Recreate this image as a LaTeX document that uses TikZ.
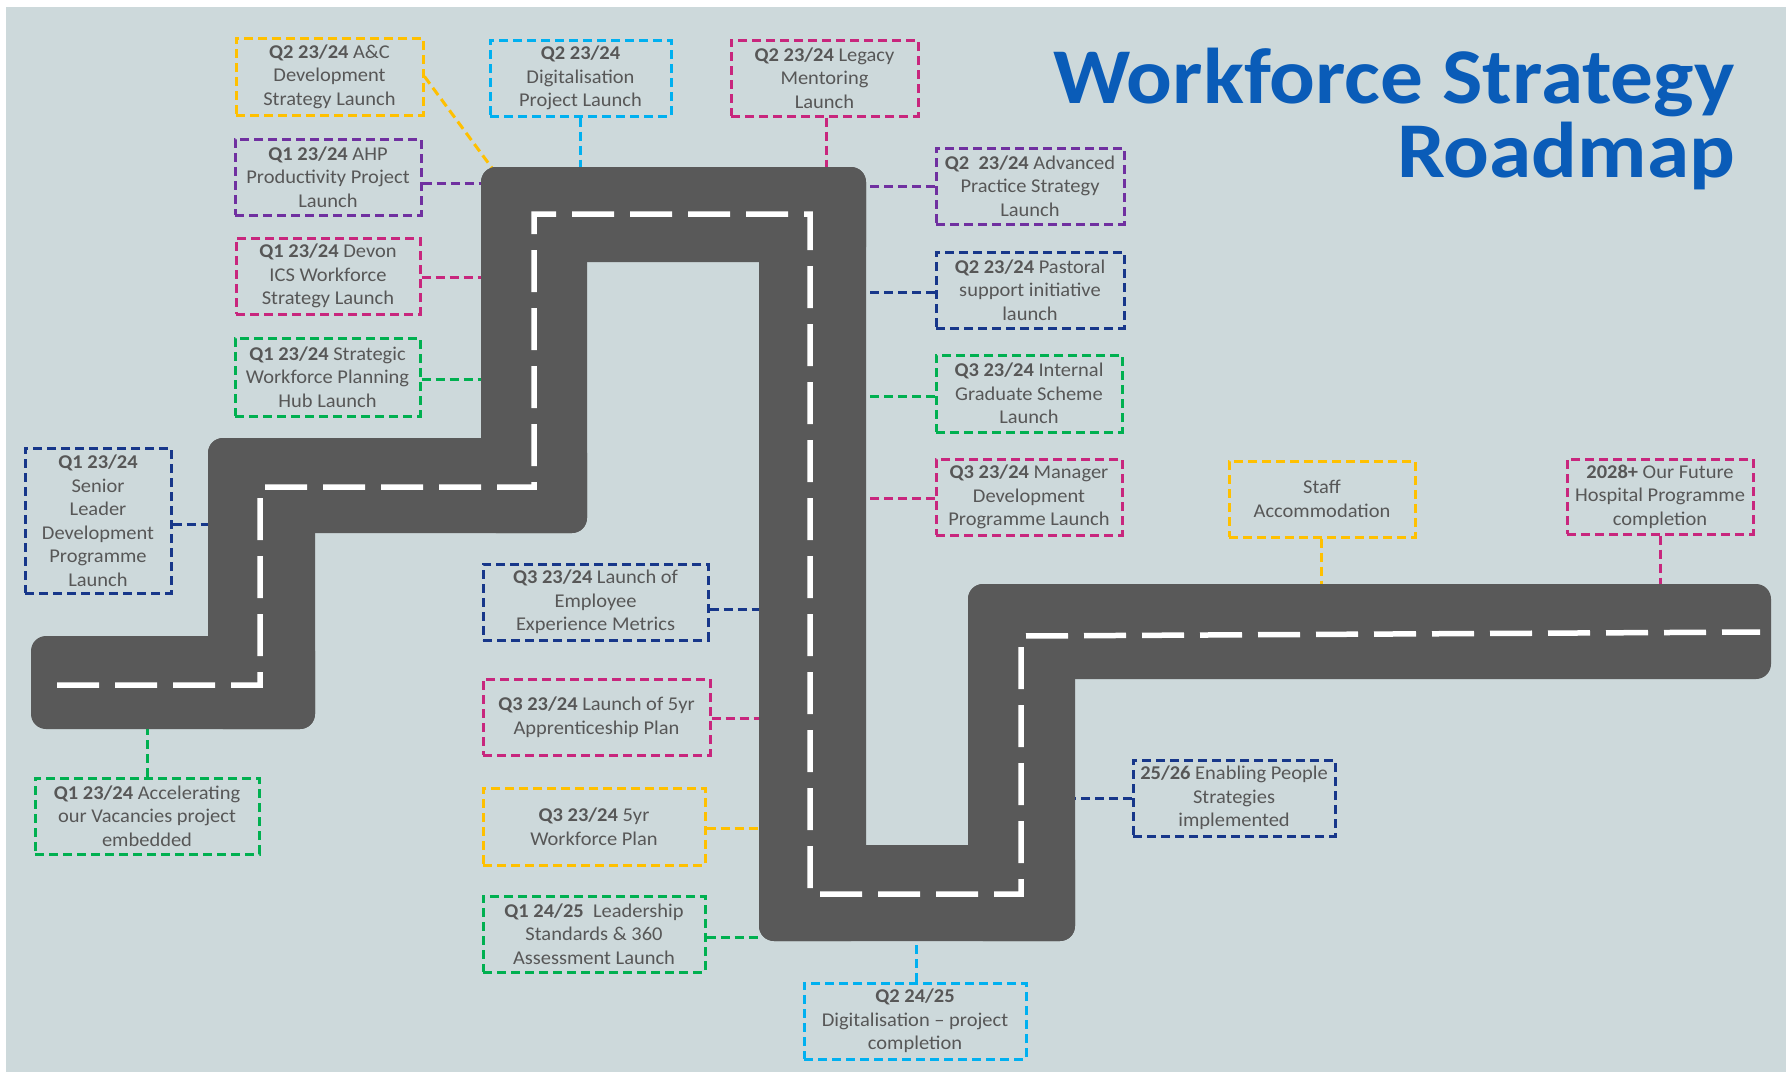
\documentclass[tikz,border=0pt]{standalone}
\usepackage{fontspec}
\setmainfont{Carlito}
\newfontfamily\boxfont{Carlito}[FakeStretch=1.05]
\newfontfamily\headfont{Carlito}[FakeStretch=1.08]

\definecolor{panel}{HTML}{CDD9DB}
\definecolor{roadgrey}{HTML}{595959}
\definecolor{txtgrey}{HTML}{575757}
\definecolor{titleblue}{HTML}{0A5CB8}
\definecolor{cOrange}{HTML}{FFC000}
\definecolor{cCyan}{HTML}{00B0F0}
\definecolor{cMagenta}{HTML}{C8267D}
\definecolor{cPurple}{HTML}{7030A0}
\definecolor{cNavy}{HTML}{17378A}
\definecolor{cGreen}{HTML}{00B050}

\tikzset{
  milestone/.style={draw, line width=3pt, dash pattern=on 9pt off 5pt,
    align=center, text=txtgrey, inner sep=0pt,
    font=\boxfont\fontsize{19.5}{23.5}\selectfont},
  link/.style={line width=3pt, dash pattern=on 9pt off 5pt},
  roadpiece/.style={fill=roadgrey, rounded corners=15pt},
  centreline/.style={draw=white, line width=5.5pt, dash pattern=on 42pt off 16pt},
  heading/.style={anchor=base east, inner sep=0pt, text=titleblue,
    font=\headfont\fontsize{79}{79}\selectfont\bfseries}
}

\begin{document}
\begin{tikzpicture}[x=1pt,y=-1pt]
\useasboundingbox (0,0) rectangle (1786,1072);
\fill[white] (0,0) rectangle (1786,1072);
\fill[panel] (6,7) rectangle (1786,1072);

% title
\node[heading] (title1) at (1735,103) {Workforce Strategy};
\node[heading] (title2) at (1735,177) {Roadmap};

% milestones
\node[milestone, draw=cOrange, minimum width=187pt, minimum height=77pt] (b1) at (329.5,76.5)
  {\textbf{Q2 23/24} A\&C\\Development\\Strategy Launch};
\node[milestone, draw=cCyan, minimum width=181pt, minimum height=76pt] (b2) at (580.5,78)
  {\textbf{Q2 23/24}\\Digitalisation\\Project Launch};
\node[milestone, draw=cMagenta, minimum width=187pt, minimum height=76pt] (b3) at (824.5,78)
  {\textbf{Q2 23/24} Legacy\\Mentoring\\Launch};
\node[milestone, draw=cPurple, minimum width=186pt, minimum height=76pt] (b4) at (328,177)
  {\textbf{Q1 23/24} AHP\\Productivity Project\\Launch};
\node[milestone, draw=cMagenta, minimum width=184pt, minimum height=76pt] (b5) at (328,276)
  {\textbf{Q1 23/24} Devon\\ICS Workforce\\Strategy Launch};
\node[milestone, draw=cGreen, minimum width=185pt, minimum height=78pt] (b6) at (327.5,377)
  {\textbf{Q1 23/24} Strategic\\Workforce Planning\\Hub Launch};
\node[milestone, draw=cNavy, minimum width=146pt, minimum height=145pt] (b7) at (98,520.5)
  {\textbf{Q1 23/24}\\Senior\\Leader\\Development\\Programme\\Launch};
\node[milestone, draw=cGreen, minimum width=224pt, minimum height=76pt] (b8) at (147,816)
  {\textbf{Q1 23/24} Accelerating\\our Vacancies project\\embedded};
\node[milestone, draw=cNavy, minimum width=225pt, minimum height=76pt] (b9) at (595.5,602)
  {\textbf{Q3 23/24} Launch of\\Employee\\Experience Metrics};
\node[milestone, draw=cMagenta, minimum width=227pt, minimum height=76pt] (b10) at (596.5,717)
  {\textbf{Q3 23/24} Launch of 5yr\\Apprenticeship Plan};
\node[milestone, draw=cOrange, minimum width=222pt, minimum height=77pt] (b11) at (594,826.5)
  {\textbf{Q3 23/24} 5yr\\Workforce Plan};
\node[milestone, draw=cGreen, minimum width=222pt, minimum height=76pt] (b12) at (594,934)
  {\textbf{Q1 24/25}\ \ Leadership\\Standards \& 360\\Assessment Launch};
\node[milestone, draw=cCyan, minimum width=222pt, minimum height=76pt] (b13) at (915,1021)
  {\textbf{Q2 24/25}\\Digitalisation – project\\completion};
\node[milestone, draw=cPurple, minimum width=188pt, minimum height=76pt] (b14) at (1030,186)
  {\textbf{Q2\ \ 23/24} Advanced\\Practice Strategy\\Launch};
\node[milestone, draw=cNavy, minimum width=188pt, minimum height=76pt] (b15) at (1030,290)
  {\textbf{Q2 23/24} Pastoral\\support initiative\\launch};
\node[milestone, draw=cGreen, minimum width=186pt, minimum height=77pt] (b16) at (1029,393.5)
  {\textbf{Q3 23/24} Internal\\Graduate Scheme\\Launch};
\node[milestone, draw=cMagenta, minimum width=186pt, minimum height=76pt] (b17) at (1029,497)
  {\textbf{Q3 23/24} Manager\\Development\\Programme Launch};
\node[milestone, draw=cOrange, minimum width=186pt, minimum height=76pt] (b18) at (1322,499)
  {Staff\\Accommodation};
\node[milestone, draw=cMagenta, minimum width=186pt, minimum height=75pt] (b19) at (1660,496.5)
  {\textbf{2028+} Our Future\\Hospital Programme\\completion};
\node[milestone, draw=cNavy, minimum width=202pt, minimum height=76pt] (b20) at (1234,798)
  {\textbf{25/26} Enabling People\\Strategies\\implemented};

% points on the road edges where the links end
\coordinate (cornerDE) at (492,168);
\coordinate (edgeEtop) at (600,170);
\coordinate (edgeDwest) at (484,300);
\coordinate (edgeBwest) at (211,500);
\coordinate (edgeAbottom) at (100,726);
\coordinate (edgeFwest) at (762,700);
\coordinate (edgeFeast) at (863,300);
\coordinate (edgeGbottom) at (900,938);
\coordinate (edgeItop) at (1300,587);
\coordinate (edgeHeast) at (1072,800);

% links
\draw[link, cOrange] (b1.east) -- (cornerDE);
\draw[link, cCyan] (b2.south) -- (b2.south |- edgeEtop);
\draw[link, cMagenta] ([xshift=1.5pt]b3.south) -- ([xshift=1.5pt]b3.south |- edgeEtop);
\draw[link, cPurple] ([yshift=-6pt]b4.east) -- ([yshift=-6pt]b4.east -| edgeDwest);
\draw[link, cMagenta] ([yshift=-1pt]b5.east) -- ([yshift=-1pt]b5.east -| edgeDwest);
\draw[link, cGreen] ([yshift=-2pt]b6.east) -- ([yshift=-2pt]b6.east -| edgeDwest);
\draw[link, cNavy] ([yshift=-3.5pt]b7.east) -- ([yshift=-3.5pt]b7.east -| edgeBwest);
\draw[link, cGreen] (b8.north) -- (b8.north |- edgeAbottom);
\draw[link, cNavy] ([yshift=-7pt]b9.east) -- ([yshift=-7pt]b9.east -| edgeFwest);
\draw[link, cMagenta] ([yshift=-1pt]b10.east) -- ([yshift=-1pt]b10.east -| edgeFwest);
\draw[link, cOrange] ([yshift=-1.5pt]b11.east) -- ([yshift=-1.5pt]b11.east -| edgeFwest);
\draw[link, cGreen] ([yshift=-3pt]b12.east) -- ([yshift=-3pt]b12.east -| edgeFwest);
\draw[link, cCyan] ([xshift=1pt]b13.north) -- ([xshift=1pt]b13.north |- edgeGbottom);
\draw[link, cPurple] (b14.west) -- (b14.west -| edgeFeast);
\draw[link, cNavy] ([yshift=-2pt]b15.west) -- ([yshift=-2pt]b15.west -| edgeFeast);
\draw[link, cGreen] ([yshift=-2.5pt]b16.west) -- ([yshift=-2.5pt]b16.west -| edgeFeast);
\draw[link, cMagenta] ([yshift=-1pt]b17.west) -- ([yshift=-1pt]b17.west -| edgeFeast);
\draw[link, cOrange] ([xshift=-1pt]b18.south) -- ([xshift=-1pt]b18.south |- edgeItop);
\draw[link, cMagenta] (b19.south) -- (b19.south |- edgeItop);
\draw[link, cNavy] (b20.west) -- (b20.west -| edgeHeast);

% the road, built from overlapping rounded slabs
\fill[roadpiece] (31,636) rectangle (315,729);
\fill[roadpiece] (208,438) rectangle (315,729);
\fill[roadpiece] (208,438) rectangle (587,533);
\fill[roadpiece] (481,167) rectangle (587,533);
\fill[roadpiece] (481,167) rectangle (866,262);
\fill[roadpiece] (759,167) rectangle (866,941);
\fill[roadpiece] (759,845) rectangle (1075,941);
\fill[roadpiece] (968,584) rectangle (1075,941);
\fill[roadpiece] (968,584) rectangle (1771,679);

% centre markings
\draw[centreline] (57,685) -- (260,685) -- (260,487) -- (534,487) -- (534,214)
  -- (810,214) -- (810,894) -- (1021,894) -- (1021,636) -- (1760,632);
\end{tikzpicture}
\end{document}
